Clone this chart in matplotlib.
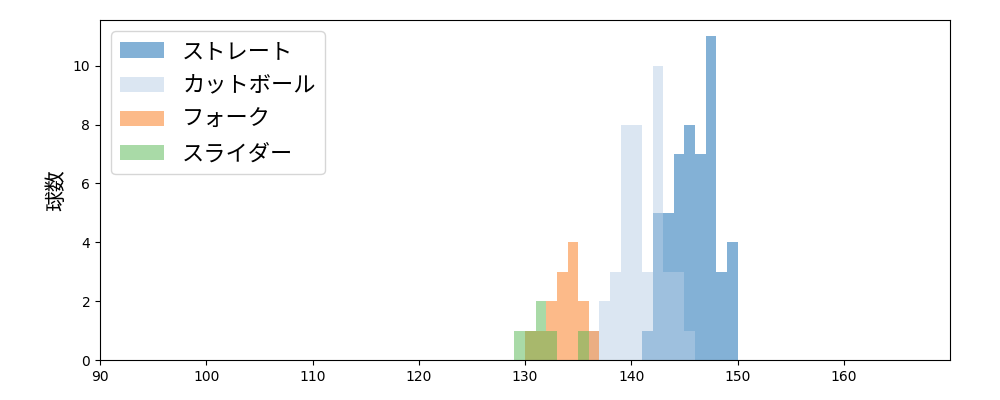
import matplotlib
matplotlib.use("Agg")
import matplotlib.pyplot as plt
import numpy as np

plt.rcParams['font.family'] = ['DejaVu Sans', 'Noto Sans CJK JP']

edges = np.arange(129, 151)
centers = edges[:-1] + 0.5
straight = [0,0,0,0,0,0,0,0,0,0,0,0,1,5,5,7,8,7,11,3,4]
cutter   = [0,0,0,0,0,0,0,1,2,3,8,8,3,10,3,3,1,0,0,0,0]
fork     = [0,1,1,2,3,4,2,1,0,0,0,0,0,0,0,0,0,0,0,0,0]
slider   = [1,1,2,1,0,0,1,0,0,0,0,0,0,0,0,0,0,0,0,0,0]
names = ['ストレート', 'カットボール', 'フォーク', 'スライダー']
colors = ['#0965AF', '#B9CFE7', '#FB7715', '#55B751']

fig = plt.figure(figsize=(10, 4), dpi=100)
ax = fig.add_axes([0.1, 0.1, 0.85, 0.85])
for vals, n, c in zip([straight, cutter, fork, slider], names, colors):
    ax.hist(centers, bins=edges, weights=vals, color=c, alpha=0.5, label=n)
ax.set_xlim(90, 170)
ax.set_ylim(0, 11.55)
ax.set_xticks(range(90, 170, 10))
ax.set_yticks(range(0, 11, 2))
ax.set_ylabel('球数', fontsize=15, family=['Noto Sans CJK JP'])
ax.legend(loc='upper left', prop={'family': 'Noto Sans CJK JP', 'size': 16})
fig.savefig('out.png')
